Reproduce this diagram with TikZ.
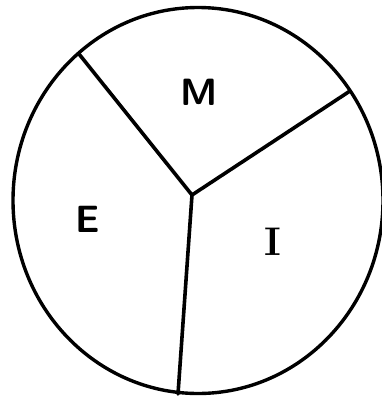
\documentclass[tikz,border=0pt]{standalone}
\begin{document}
\begin{tikzpicture}[x=1pt,y=-1pt,
  rim/.style={line width=3.4pt},
  spoke/.style={line width=3.6pt,line cap=round},
  lbl/.style={font=\fontsize{38}{38}\selectfont\sffamily\bfseries}]
\useasboundingbox (0,0) rectangle (382,399);
\draw[rim] (198,200.5) ellipse [x radius=185, y radius=193];
\coordinate (c) at (192,195);
\coordinate (ul) at (79,54);
\coordinate (ur) at (350,91);
\coordinate (bt) at (178,394);
\draw[spoke] (ul) -- (c) -- (ur);
\draw[spoke] (c) -- (bt);
\node[lbl] (m) at (199,92) {M};
\node[lbl] (e) at (88,219) {E};
\node[lbl,font=\fontsize{40}{40}\selectfont\rmfamily\bfseries] (i) at (273,242) {I};
\end{tikzpicture}
\end{document}
